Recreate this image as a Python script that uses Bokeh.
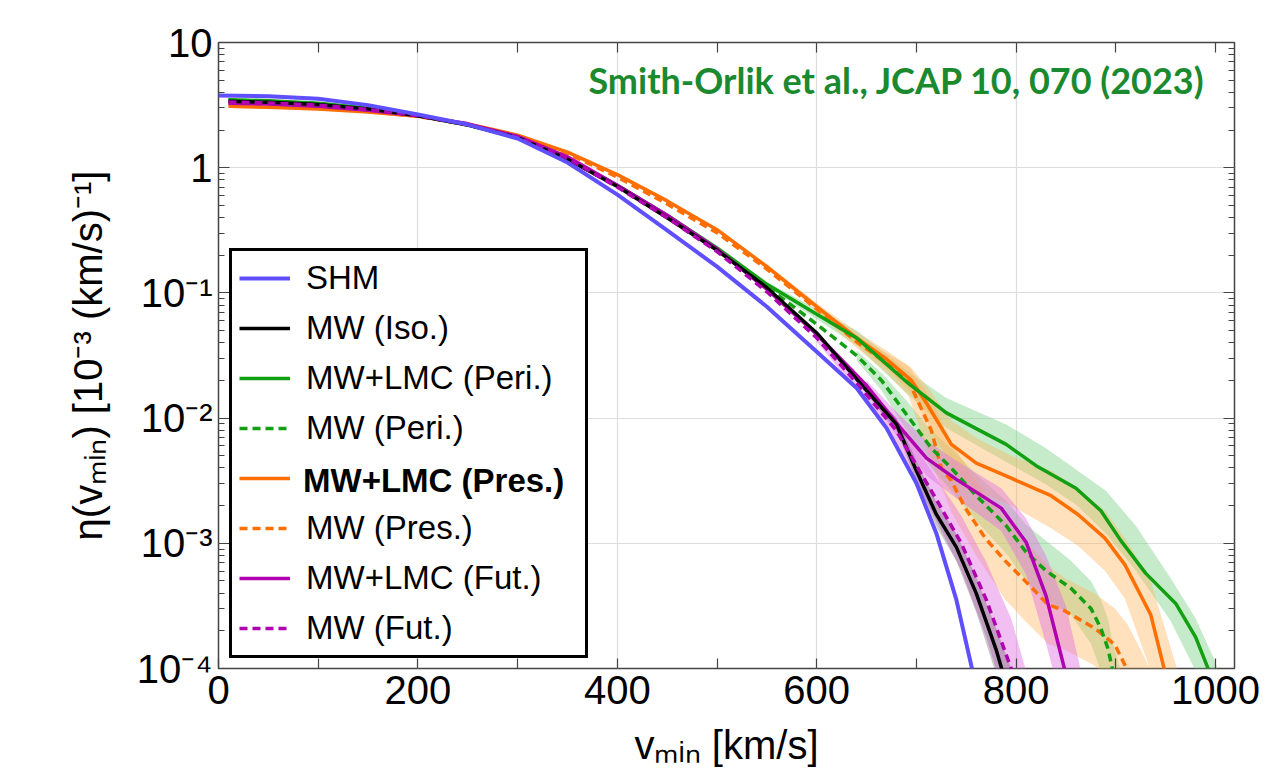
from bokeh.plotting import figure
from bokeh.models import Range1d, FixedTicker, LinearAxis, LogAxis, Legend, LegendItem, Label
from bokeh.embed import file_html
from bokeh.resources import INLINE

# ---------------- data (eta in 10^-3 (km/s)^-1, v in km/s) ----------------
shm_v = [0, 50, 100, 150, 200, 250, 300, 350, 400, 450, 500, 550, 600, 640, 670, 700, 720, 740, 760]
shm_eta = [3.77, 3.72, 3.56, 3.16, 2.66, 2.21, 1.71, 1.10, 0.610, 0.316, 0.162, 0.0776, 0.0339,
           0.0174, 8.32e-3, 3.02e-3, 1.20e-3, 3.55e-4, 7.08e-5]

iso_v = [10, 50, 100, 150, 200, 250, 300, 350, 400, 450, 500, 550, 600, 650, 680, 700, 720, 740,
         760, 780, 800]
iso_eta = [3.39, 3.33, 3.20, 2.95, 2.60, 2.19, 1.74, 1.17, 0.708, 0.398, 0.219, 0.110, 0.0479,
           0.0166, 8.91e-3, 3.80e-3, 1.70e-3, 9.33e-4, 3.98e-4, 1.41e-4, 3.98e-5]

peri_lmc_v = [10, 50, 100, 150, 200, 250, 300, 350, 400, 450, 500, 550, 600, 640, 690, 730, 790,
              820, 860, 885, 905, 930, 960, 980, 995, 1005]
peri_lmc_eta = [3.49, 3.43, 3.27, 2.99, 2.60, 2.21, 1.76, 1.19, 0.724, 0.417, 0.229, 0.117, 0.0676,
                0.0437, 0.0195, 0.0110, 6.17e-3, 4.17e-3, 2.75e-3, 1.82e-3, 1.05e-3, 5.75e-4,
                3.31e-4, 1.78e-4, 8.91e-5, 3.98e-5]

peri_mw_v = [10, 50, 100, 150, 200, 250, 300, 350, 400, 450, 500, 550, 600, 640, 665, 690, 715,
             735, 760, 790, 810, 830, 855, 875, 885, 892, 897, 902]
peri_mw_eta = [3.47, 3.39, 3.24, 2.95, 2.60, 2.19, 1.74, 1.17, 0.708, 0.407, 0.224, 0.112, 0.0562,
               0.0316, 0.0200, 0.0107, 5.75e-3, 3.98e-3, 2.40e-3, 1.38e-3, 8.51e-4, 6.03e-4,
               4.37e-4, 3.02e-4, 2.09e-4, 1.45e-4, 9.55e-5, 5.01e-5]

pres_lmc_v = [10, 50, 100, 150, 200, 250, 300, 350, 400, 450, 500, 550, 600, 640, 670, 695, 710,
              735, 760, 795, 835, 862, 889, 909, 935, 949, 960]
pres_lmc_eta = [3.09, 3.04, 2.95, 2.79, 2.57, 2.24, 1.82, 1.33, 0.881, 0.543, 0.320, 0.162, 0.0776,
                0.0437, 0.0295, 0.0200, 0.0132, 6.17e-3, 4.37e-3, 3.31e-3, 2.40e-3, 1.70e-3,
                1.10e-3, 6.76e-4, 2.69e-4, 9.55e-5, 3.98e-5]

pres_mw_v = [10, 50, 100, 150, 200, 250, 300, 350, 400, 450, 500, 550, 600, 640, 670, 692, 715,
             725, 735, 749, 769, 789, 809, 832, 849, 879, 899, 912, 925]
pres_mw_eta = [3.20, 3.14, 3.02, 2.82, 2.57, 2.21, 1.80, 1.30, 0.841, 0.513, 0.302, 0.155, 0.0741,
               0.0407, 0.0275, 0.0200, 7.94e-3, 3.98e-3, 3.16e-3, 1.91e-3, 1.10e-3, 7.24e-4,
               5.01e-4, 3.24e-4, 2.88e-4, 2.09e-4, 1.55e-4, 9.55e-5, 5.01e-5]

fut_lmc_v = [10, 50, 100, 150, 200, 250, 300, 350, 400, 450, 500, 550, 600, 650, 680, 710, 740,
             785, 810, 830, 850, 860]
fut_lmc_eta = [3.27, 3.22, 3.09, 2.88, 2.60, 2.24, 1.78, 1.22, 0.724, 0.417, 0.224, 0.107,
               0.0468, 0.0182, 9.12e-3, 4.79e-3, 3.24e-3, 1.91e-3, 1.02e-3, 3.80e-4, 8.91e-5, 3.98e-5]

fut_mw_v = [10, 50, 100, 150, 200, 250, 300, 350, 400, 450, 500, 550, 600, 640, 680, 700, 720,
            745, 770, 795, 810]
fut_mw_eta = [3.35, 3.29, 3.16, 2.92, 2.60, 2.21, 1.76, 1.19, 0.700, 0.398, 0.214, 0.102, 0.0437,
              0.0191, 7.94e-3, 4.17e-3, 2.24e-3, 1.0e-3, 3.55e-4, 1.0e-4, 3.98e-5]

# uncertainty bands (upper / lower)
peri_lmc_band_v = [550, 600, 640, 690, 730, 790, 830, 860, 890, 920, 955, 980, 1000, 1012]
peri_lmc_band_hi = [0.123, 0.0741, 0.0501, 0.0240, 0.0145, 8.91e-3, 5.75e-3, 3.89e-3, 2.63e-3,
                    1.38e-3, 5.25e-4, 2.51e-4, 1.12e-4, 5.0e-5]
peri_lmc_band_lo = [0.112, 0.0617, 0.0380, 0.0158, 8.32e-3, 4.47e-3, 2.95e-3, 2.04e-3, 1.20e-3,
                    6.03e-4, 2.40e-4, 9.55e-5, 3.98e-5, 2.51e-5]

peri_mw_band_v = [640, 665, 690, 715, 735, 760, 790, 810, 830, 855, 875, 885, 892, 897, 905, 915]
peri_mw_band_hi = [0.0347, 0.0229, 0.0138, 7.94e-3, 5.75e-3, 3.55e-3, 2.19e-3, 1.41e-3, 1.05e-3,
                   7.24e-4, 5.01e-4, 3.55e-4, 2.51e-4, 1.58e-4, 9.55e-5, 3.98e-5]
peri_mw_band_lo = [0.0288, 0.0166, 7.94e-3, 3.98e-3, 2.63e-3, 1.51e-3, 8.32e-4, 5.01e-4, 3.55e-4,
                   2.69e-4, 1.58e-4, 9.55e-5, 5.01e-5, 3.16e-5, 1.58e-5, 1.0e-5]

pres_lmc_band_v = [550, 600, 640, 670, 695, 710, 735, 760, 795, 835, 862, 889, 909, 935, 950, 962, 975]
pres_lmc_band_hi = [0.170, 0.0832, 0.0490, 0.0347, 0.0251, 0.0182, 9.55e-3, 6.92e-3, 5.01e-3,
                    3.80e-3, 2.75e-3, 1.82e-3, 1.10e-3, 5.01e-4, 2.0e-4, 9.55e-5, 3.98e-5]
pres_lmc_band_lo = [0.155, 0.0724, 0.0389, 0.0251, 0.0158, 9.55e-3, 4.17e-3, 2.63e-3, 2.0e-3,
                    1.32e-3, 9.55e-4, 6.03e-4, 3.63e-4, 9.55e-5, 3.16e-5, 1.58e-5, 1.0e-5]

pres_mw_band_v = [600, 640, 670, 692, 715, 735, 760, 789, 809, 832, 849, 879, 899, 912, 925, 940]
pres_mw_band_hi = [0.0794, 0.0457, 0.0331, 0.0263, 0.0141, 6.31e-3, 3.16e-3, 1.58e-3, 1.05e-3,
                   6.61e-4, 5.25e-4, 3.98e-4, 3.02e-4, 2.24e-4, 1.41e-4, 7.94e-5]
pres_mw_band_lo = [0.0692, 0.0363, 0.0229, 0.0151, 4.47e-3, 1.78e-3, 7.94e-4, 3.55e-4, 2.40e-4,
                   1.58e-4, 1.41e-4, 1.05e-4, 7.08e-5, 3.98e-5, 2.0e-5, 1.0e-5]

fut_lmc_band_v = [650, 680, 710, 740, 785, 810, 830, 850, 865, 875]
fut_lmc_band_hi = [0.0200, 0.0112, 6.61e-3, 4.57e-3, 2.75e-3, 1.58e-3, 7.94e-4, 3.16e-4, 9.55e-5, 3.98e-5]
fut_lmc_band_lo = [0.0166, 7.24e-3, 3.47e-3, 2.29e-3, 1.26e-3, 5.62e-4, 1.58e-4, 3.98e-5, 1.58e-5, 1.0e-5]

fut_mw_band_v = [600, 640, 680, 700, 720, 745, 770, 795, 810, 825]
fut_mw_band_hi = [0.0468, 0.0219, 0.0100, 5.75e-3, 3.31e-3, 1.66e-3, 7.08e-4, 2.51e-4, 9.55e-5, 3.98e-5]
fut_mw_band_lo = [0.0407, 0.0166, 6.31e-3, 3.02e-3, 1.51e-3, 6.03e-4, 1.78e-4, 3.98e-5, 1.58e-5, 1.0e-5]

iso_band_v = [650, 680, 700, 720, 740, 760, 780, 800]
iso_band_hi = [0.0178, 0.0100, 4.57e-3, 2.14e-3, 1.20e-3, 5.37e-4, 2.09e-4, 7.94e-5]
iso_band_lo = [0.0155, 7.94e-3, 3.16e-3, 1.35e-3, 7.24e-4, 2.82e-4, 8.91e-5, 2.0e-5]

x_major = [0, 200, 400, 600, 800, 1000]
x_minor = [100, 300, 500, 700, 900]
y_major = [1e-4, 1e-3, 1e-2, 1e-1, 1, 10]
y_major_labels = ["10⁻⁴", "10⁻³", "10⁻²", "10⁻¹", "1", "10"]

legend_labels = ["SHM", "MW (Iso.)", "MW+LMC (Peri.)", "MW (Peri.)", "MW+LMC (Pres.)",
                 "MW (Pres.)", "MW+LMC (Fut.)", "MW (Fut.)"]
credit_text = "Smith-Orlik et al., JCAP 10, 070 (2023)"

# ---------------- styling ----------------
C_SHM = "#5f4fff"
C_ISO = "#000000"
C_GREEN = "#12a012"
C_ORANGE = "#ff6e00"
C_PURPLE = "#b000b0"
DASH = "8 5"
LW = 3.5
FONT = "Liberation Sans"

p = figure(width=1272, height=780, output_backend="svg", toolbar_location=None,
           x_range=Range1d(0, 1019), y_range=Range1d(1e-4, 10), y_axis_type="log",
           min_border_left=218, min_border_right=38, min_border_top=42, min_border_bottom=112,
           x_axis_location=None, y_axis_location=None)
p.background_fill_color = "white"
p.border_fill_color = "white"
p.outline_line_color = "#444444"
p.outline_line_width = 1.5

minor_y = [m * 10.0 ** k for k in range(-4, 1) for m in range(2, 10)]
xt = FixedTicker(ticks=x_major, minor_ticks=x_minor)
yt = FixedTicker(ticks=y_major, minor_ticks=minor_y)


def style_axis(ax, show_labels):
    ax.axis_line_color = None
    ax.major_tick_in = 11
    ax.major_tick_out = 0
    ax.minor_tick_in = 6
    ax.minor_tick_out = 0
    ax.major_tick_line_color = "#444444"
    ax.minor_tick_line_color = "#444444"
    ax.major_tick_line_width = 1.2
    ax.minor_tick_line_width = 1.2
    if show_labels:
        ax.major_label_text_font = FONT
        ax.major_label_text_font_size = "40px"
        ax.major_label_text_color = "black"
        ax.axis_label_text_font = FONT
        ax.axis_label_text_font_size = "40px"
        ax.axis_label_text_font_style = "normal"
        ax.axis_label_text_color = "black"
    else:
        ax.major_label_text_font_size = "8px"
        ax.major_label_text_color = None
        ax.major_label_standoff = 0


xb = LinearAxis(ticker=xt, axis_label="vₘᵢₙ [km/s]")
style_axis(xb, True)
xb.minor_tick_in = 10
xb.major_tick_in = 10
xb.major_label_standoff = 7
xb.axis_label_standoff = 16
p.add_layout(xb, "below")

xa = LinearAxis(ticker=xt)
style_axis(xa, False)
xa.minor_tick_in = 10
xa.major_tick_in = 10
p.add_layout(xa, "above")

yl = LogAxis(ticker=yt, axis_label="η(vₘᵢₙ) [10⁻³ (km/s)⁻¹]")
style_axis(yl, True)
yl.major_label_overrides = {v: s for v, s in zip(y_major, y_major_labels)}
yl.major_label_standoff = 6
yl.axis_label_standoff = 24
p.add_layout(yl, "left")

yr = LogAxis(ticker=yt)
style_axis(yr, False)
p.add_layout(yr, "right")

p.xgrid.ticker = FixedTicker(ticks=[200, 400, 600, 800])
p.ygrid.ticker = FixedTicker(ticks=y_major)
p.xgrid.grid_line_color = "#dddddd"
p.ygrid.grid_line_color = "#dddddd"
p.xgrid.grid_line_width = 1.2
p.ygrid.grid_line_width = 1.2

# ---------------- bands ----------------
GREEN_BAND = "#7ed38b"
ORANGE_BAND = "#ffb45a"
PINK_BAND = "#e070e0"
p.varea(x=peri_lmc_band_v, y1=peri_lmc_band_lo, y2=peri_lmc_band_hi, fill_color=GREEN_BAND, fill_alpha=0.45)
p.varea(x=peri_mw_band_v, y1=peri_mw_band_lo, y2=peri_mw_band_hi, fill_color=GREEN_BAND, fill_alpha=0.45)
p.varea(x=pres_lmc_band_v, y1=pres_lmc_band_lo, y2=pres_lmc_band_hi, fill_color=ORANGE_BAND, fill_alpha=0.4)
p.varea(x=pres_mw_band_v, y1=pres_mw_band_lo, y2=pres_mw_band_hi, fill_color=ORANGE_BAND, fill_alpha=0.4)
p.varea(x=fut_lmc_band_v, y1=fut_lmc_band_lo, y2=fut_lmc_band_hi, fill_color=PINK_BAND, fill_alpha=0.45)
p.varea(x=fut_mw_band_v, y1=fut_mw_band_lo, y2=fut_mw_band_hi, fill_color=PINK_BAND, fill_alpha=0.45)
p.varea(x=iso_band_v, y1=iso_band_lo, y2=iso_band_hi, fill_color="#505050", fill_alpha=0.3)

# ---------------- lines ----------------
r_pres_lmc = p.line(pres_lmc_v, pres_lmc_eta, line_color=C_ORANGE, line_width=LW)
r_pres_mw = p.line(pres_mw_v, pres_mw_eta, line_color=C_ORANGE, line_width=LW, line_dash=DASH)
r_peri_lmc = p.line(peri_lmc_v, peri_lmc_eta, line_color=C_GREEN, line_width=LW)
r_peri_mw = p.line(peri_mw_v, peri_mw_eta, line_color=C_GREEN, line_width=LW, line_dash=DASH)
r_fut_lmc = p.line(fut_lmc_v, fut_lmc_eta, line_color=C_PURPLE, line_width=LW)
r_iso = p.line(iso_v, iso_eta, line_color=C_ISO, line_width=LW)
r_fut_mw = p.line(fut_mw_v, fut_mw_eta, line_color=C_PURPLE, line_width=LW, line_dash=DASH)
r_shm = p.line(shm_v, shm_eta, line_color=C_SHM, line_width=LW + 0.5)

renderers = [r_shm, r_iso, r_peri_lmc, r_peri_mw, r_pres_lmc, r_pres_mw, r_fut_lmc, r_fut_mw]
BOLD_IDX = 4
items = []
for i, (lab, r) in enumerate(zip(legend_labels, renderers)):
    items.append(LegendItem(label=(" " if i == BOLD_IDX else lab), renderers=[r]))

# invisible stand-in so the bold overlay entry draws only its text
r_ghost = p.line(x=[], y=[], line_alpha=0.0, line_width=LW)


def make_legend(its, loc, visible_frame, bold):
    lg = Legend(items=its, location=loc)
    lg.border_line_color = "black"
    lg.border_line_width = 3
    lg.border_line_alpha = 1.0 if visible_frame else 0.0
    lg.background_fill_color = "white"
    lg.background_fill_alpha = 1.0 if visible_frame else 0.0
    lg.label_text_font = FONT
    lg.label_text_font_size = "33px"
    lg.label_text_font_style = "bold" if bold else "normal"
    lg.label_text_color = "black"
    lg.glyph_width = 51
    lg.glyph_height = 40
    lg.label_height = 40
    lg.label_width = 272
    lg.label_standoff = 16
    lg.spacing = 10
    lg.padding = 7
    lg.margin = 0
    return lg


legend_main = make_legend(items, (11, 10), True, False)
p.add_layout(legend_main, "center")

# the highlighted (bold) entry sits exactly on slot 5 of the main legend
n_below = len(legend_labels) - 1 - BOLD_IDX
legend_bold = make_legend([LegendItem(label=legend_labels[BOLD_IDX], renderers=[r_ghost])],
                          (11, 10 + n_below * 50), False, True)
p.add_layout(legend_bold, "center")

credit = Label(x=990, y=4.98, text=credit_text, text_font="Lato", text_font_size="36px",
               text_font_style="bold", text_color="#1b8a2f", text_align="right",
               text_baseline="alphabetic")
p.add_layout(credit)

open("out.html", "w").write(file_html(p, INLINE))
